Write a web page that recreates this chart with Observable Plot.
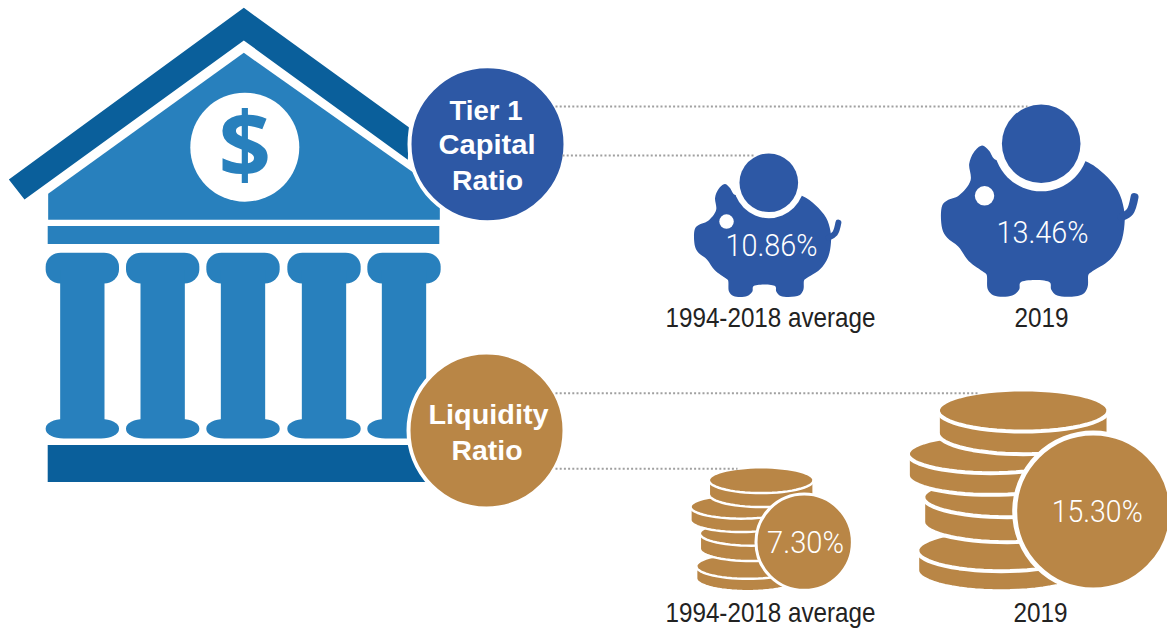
<!DOCTYPE html>
<html>
<head>
<meta charset="utf-8">
<style>html,body{margin:0;padding:0;background:#fff}svg{display:block}</style>
<script src="https://cdn.jsdelivr.net/npm/d3@7"></script>
<script src="https://cdn.jsdelivr.net/npm/@observablehq/plot@0.6"></script>
</head>
<body>
<script>
// ---- chart values -------------------------------------------------
const ratioNames = [["Tier 1","Capital","Ratio"],["Liquidity","Ratio"]];
const periods = ["1994-2018 average","2019"];
const tier1Values = [10.86,13.46];
const liquidityValues = [7.30,15.30];

// ---- colours --------------------------------------------------------
const BLUE="#2d58a5", GOLD="#b98646", BANK="#2880bd", ROOF="#0a5f9b", DOT="#a0a0a0";
const SANS='"Liberation Sans",sans-serif';
const LIGHT='Roboto,"Liberation Sans",sans-serif';
const pct = v => v.toFixed(2)+"%";
// rendered widths of the condensed lettering in the picture
const textWidths={"1994-2018 average":210,"2019":54,"10.86%":92,"13.46%":92,"7.30%":77,"15.30%":91,"Tier 1":73,"Capital":97,"Ratio":71,"Liquidity":120};

// ---- helpers (pictogram geometry, in picture units) ------------------
const X=d=>d[0], Y=d=>d[1];
const poly=(pts,o={})=>Plot.line(pts,{x:X,y:Y,fill:o.fill,stroke:o.stroke||"none",strokeWidth:o.sw,curve:o.curve||"linear-closed",strokeLinecap:"round"});
const disc=(x,y,r,fill,stroke,sw)=>Plot.dot([[x,y]],{x:X,y:Y,r,fill,stroke:stroke||"none",strokeWidth:sw||0});
const box=(x1,y1,x2,y2,fill,rx,ry)=>Plot.rect([[x1,y1,x2,y2]],{x1:d=>d[0],y1:d=>d[1],x2:d=>d[2],y2:d=>d[3],fill,rx,ry});

// ---- bank ------------------------------------------------------------
const z1=p=>[p[0]/3,p[1]/3];
const roofPts=[[25,537],[730,22],[1225,380],[1222,478],[730,120],[72,597]].map(z1);
const pedimentPts=[[143,580],[730,157],[1318,572],[1318,658],[143,658]].map(z1);
const columnLeft=[137,378,619,862,1102];
const bankMarks=[
  poly(roofPts,{fill:ROOF}),
  poly(pedimentPts,{fill:BANK}),
  box(47.7,226,439.3,244,BANK),
  disc(244.3,146.7,54.5,"#fff"),
  Plot.text(["$"],{x:()=>244.3,y:()=>177.5,text:d=>d,fontSize:92,fontWeight:700,fontFamily:'"Open Sans",sans-serif',fill:BANK,lineAnchor:"bottom"}),
  ...columnLeft.flatMap(l=>{
    const a=l/3,b=(l+220)/3;
    return [
      box(a,252.7,b,283.5,BANK,15,14),
      box(a+14.5,270,b-14.5,435,BANK),
      box(a,419,b,438.5,BANK,18,9.5)
    ];
  }),
  box(47.7,445,436,482,ROOF)
];

// ---- piggy bank ------------------------------------------------------
const pigOutline=[[965,165],[985,180],[1005,208],[1060,200],[1142,190],[1275,212],[1330,250],[1372,300],[1390,355],[1392,400],[1380,460],[1348,508],[1292,545],[1284,552],[1281,590],[1265,612],[1190,615],[1172,597],[1168,576],[1080,576],[1076,597],[1055,615],[1000,615],[982,597],[978,552],[970,545],[925,512],[893,468],[860,442],[845,415],[845,345],[860,330],[895,315],[930,270],[926,220],[940,185]];
const pigTail=[[1383,380],[1408,364],[1422,320]];
const pigMarks=(cx,cy,k)=>{
  const t=p=>[cx+(p[0]-1142)/3*k,cy+(p[1]-160)/3*k];
  return [
    poly(pigOutline.map(t),{fill:BLUE,curve:"catmull-rom-closed"}),
    poly(pigTail.map(t),{stroke:BLUE,sw:8*k,fill:"none",curve:"catmull-rom"}),
    disc(...t([972,316]),9.7*k,"#fff"),
    disc(cx,cy,47.5*k,"#fff"),
    disc(cx,cy,39.3*k,BLUE)
  ];
};

// ---- coin stack ------------------------------------------------------
const coinStack=[ // bottom to top: cx, cy, rx, ry, side height
  [1022,510,252,62,60],
  [1040,350,252,60,75],
  [990,220,248,58,65],
  [1088,90,256,63,68]
];
const coinMarks=(cx,cy,k)=>{
  const t=p=>[cx+(p[0]-1298)/3*k,cy+(p[1]-393)/3*k];
  const angles=d3.range(0,181,6).map(a=>a*Math.PI/180);
  const out=[];
  for(const [x,y,rx,ry,h] of coinStack){
    const top=angles.map(a=>[x-rx*Math.cos(a),y-ry*Math.sin(a)]);
    const bottom=angles.map(a=>[x+rx*Math.cos(a),y+h+ry*Math.sin(a)]);
    const arc=angles.map(a=>[x+rx*Math.cos(a),y+ry*Math.sin(a)]);
    out.push(poly([...top,...bottom].map(t),{fill:GOLD,stroke:"#fff",sw:4*k}));
    out.push(poly(arc.map(t),{fill:"none",stroke:"#fff",sw:4*k,curve:"linear"}));
  }
  out.push(disc(cx,cy,78.5*k,GOLD,"#fff",5*k));
  return out;
};

// ---- text -------------------------------------------------------------
const label=(t,x,y,size,fill,o={})=>Plot.text([t],{x:()=>x,y:()=>y,text:d=>d,fontSize:size,fill,fontFamily:o.font||SANS,fontWeight:o.weight||400,textAnchor:"middle",lineAnchor:"bottom"});
const headLabel=(t,x,y)=>label(t,x,y,28,"#fff",{font:SANS,weight:700});
const valueLabel=(v,x,y)=>label(pct(v),x,y,31,"#fff",{font:LIGHT,weight:300});

const chart=Plot.plot({
  width:1167,height:629,margin:0,
  x:{domain:[0,1167],range:[0,1167],axis:null},
  y:{domain:[0,629],range:[0,629],axis:null},
  style:{background:"#fff"},
  marks:[
    ...bankMarks,
    // ratio badges
    disc(487,143.7,78,BLUE,"#fff",4),
    disc(486,430,78,GOLD,"#fff",4),
    headLabel(ratioNames[0][0],485.5,119),
    headLabel(ratioNames[0][1],486.5,153.5),
    headLabel(ratioNames[0][2],487,189),
    headLabel(ratioNames[1][0],488,423),
    headLabel(ratioNames[1][1],486.5,459),
    // pictograms
    ...pigMarks(768.3,182.3,0.746),
    ...pigMarks(1040.7,143.3,1),
    ...coinMarks(803.7,541.7,0.614),
    ...coinMarks(1092.7,511,1),
    // leader lines
    ...[[555,106,1027],[562,155,755],[555,392.7,977],[555,468.3,737]].map(([a,y,b])=>
      Plot.line([[a,y],[b,y]],{x:X,y:Y,stroke:DOT,strokeWidth:2,strokeLinecap:"butt",strokeDasharray:"2 2.2"})),
    // values
    valueLabel(tier1Values[0],771,255),
    valueLabel(tier1Values[1],1042,242),
    valueLabel(liquidityValues[0],805,552.7),
    valueLabel(liquidityValues[1],1096.7,521.7),
    // period captions
    label(periods[0],770,326,28,"#222"),
    label(periods[1],1041,326,28,"#222"),
    label(periods[0],770,621.7,28,"#222"),
    label(periods[1],1040,621.7,28,"#222")
  ]
});
chart.querySelectorAll("text").forEach(el=>{
  const w=textWidths[el.textContent];
  if(w){el.setAttribute("textLength",w);el.setAttribute("lengthAdjust","spacingAndGlyphs");}
});
document.body.appendChild(chart);
</script>
</body>
</html>
